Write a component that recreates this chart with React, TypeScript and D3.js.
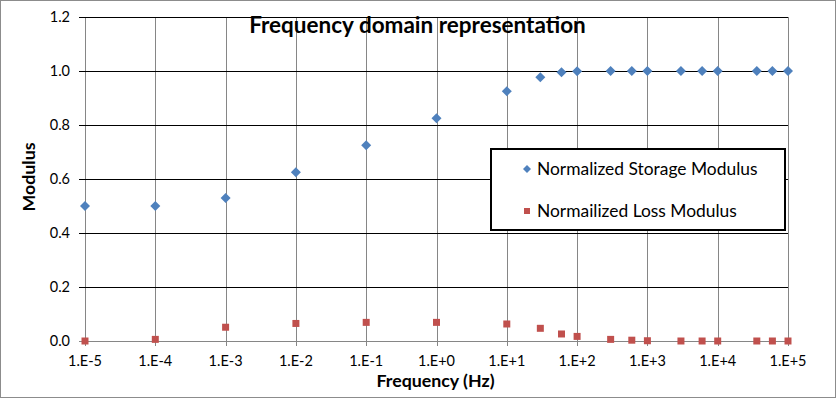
import React from "react";
import * as d3 from "d3";

const storageFreq = [1e-5, 1e-4, 1e-3, 1e-2, 1e-1, 1, 10, 30, 60, 100, 300, 600, 1000, 3000, 6000, 10000, 36000, 60000, 100000];
const storageValues = [0.5, 0.5, 0.53, 0.625, 0.725, 0.825, 0.925, 0.977, 0.995, 0.999, 1.0, 1.0, 1.0, 1.0, 1.0, 1.0, 1.0, 1.0, 1.0];
const lossFreq = [1e-5, 1e-4, 1e-3, 1e-2, 1e-1, 1, 10, 30, 60, 100, 300, 600, 1000, 3000, 6000, 10000, 36000, 60000, 100000];
const lossValues = [0.0, 0.006, 0.051, 0.065, 0.069, 0.069, 0.063, 0.047, 0.026, 0.017, 0.006, 0.003, 0.001, 0.0, 0.0, 0.0, 0.0, 0.0, 0.0];
const xTicks = [1e-5, 1e-4, 1e-3, 1e-2, 1e-1, 1, 10, 100, 1000, 10000, 100000];
const xTickLabels = ["1.E-5", "1.E-4", "1.E-3", "1.E-2", "1.E-1", "1.E+0", "1.E+1", "1.E+2", "1.E+3", "1.E+4", "1.E+5"];
const yTicks = [0, 0.2, 0.4, 0.6, 0.8, 1.0, 1.2];
const seriesNames = ["Normalized Storage Modulus", "Normailized Loss Modulus"];

const W = 836;
const H = 398;
const left = 85;
const right = 788;
const top = 17;
const bottom = 341;
const font = "Lato, 'Open Sans', sans-serif";

const diamondPath = (r: number) => {
  const p = d3.path();
  p.moveTo(0, -r);
  p.lineTo(r, 0);
  p.lineTo(0, r);
  p.lineTo(-r, 0);
  p.closePath();
  return p.toString();
};

export default function App() {
  const x = d3.scaleLog().domain([1e-5, 1e5]).range([left, right]);
  const y = d3.scaleLinear().domain([0, 1.2]).range([bottom, top]);
  const diamond = diamondPath(5);
  const square = d3.symbol().type(d3.symbolSquare).size(49)();

  return (
    <svg width={W} height={H} style={{ position: "absolute", left: 0, top: 0 }} fontFamily={font}>
      <rect x={0.5} y={0.5} width={W - 1} height={H - 1} fill="#fff" stroke="#8c8c8c" />
      {xTicks.map((t, i) => (
        <line key={"vx" + i} x1={Math.round(x(t)) + 0.5} x2={Math.round(x(t)) + 0.5} y1={top} y2={bottom + 5} stroke="#868686" strokeWidth={1} />
      ))}
      {yTicks.map((t, i) => (
        <line key={"hy" + i} x1={left - 6} x2={right} y1={Math.round(y(t)) + 0.5} y2={Math.round(y(t)) + 0.5}
          stroke={t === 0 ? "#868686" : "#000"} strokeWidth={1} />
      ))}
      {yTicks.map((t, i) => (
        <text key={"yl" + i} x={left - 15} y={y(t)} dy="0.36em" textAnchor="end" fontSize={14.5} fill="#000">
          {t.toFixed(1)}
        </text>
      ))}
      {xTicks.map((t, i) => (
        <text key={"xl" + i} x={x(t)} y={366} textAnchor="middle" fontSize={14.5} fill="#000">
          {xTickLabels[i]}
        </text>
      ))}
      {storageFreq.map((f, i) => (
        <path key={"s" + i} d={diamond} transform={`translate(${x(f)},${y(storageValues[i])})`} fill="#4F81BD" />
      ))}
      {lossFreq.map((f, i) => (
        <path key={"l" + i} d={square!} transform={`translate(${x(f)},${y(lossValues[i])})`} fill="#C0504D" />
      ))}
      <text x={417.5} y={33} textAnchor="middle" fontSize={22.5} fontWeight="bold" fill="#000">
        Frequency domain representation
      </text>
      <text x={435.5} y={387} textAnchor="middle" fontSize={17.8} fontWeight="bold" fill="#000">
        Frequency (Hz)
      </text>
      <text transform={`translate(35,177) rotate(-90)`} textAnchor="middle" fontSize={17.8} fontWeight="bold" fill="#000">
        Modulus
      </text>
      <g>
        <rect x={491} y={149} width={294} height={81} fill="#fff" stroke="#000" strokeWidth={2} />
        <path d={diamondPath(4)} transform="translate(527,169)" fill="#4F81BD" />
        <path d={d3.symbol().type(d3.symbolSquare).size(36)()!} transform="translate(527,211)" fill="#C0504D" />
        <text x={537} y={169} dy="0.35em" fontSize={17.4} fill="#000">{seriesNames[0]}</text>
        <text x={537} y={211} dy="0.35em" fontSize={17.4} fill="#000">{seriesNames[1]}</text>
      </g>
    </svg>
  );
}
